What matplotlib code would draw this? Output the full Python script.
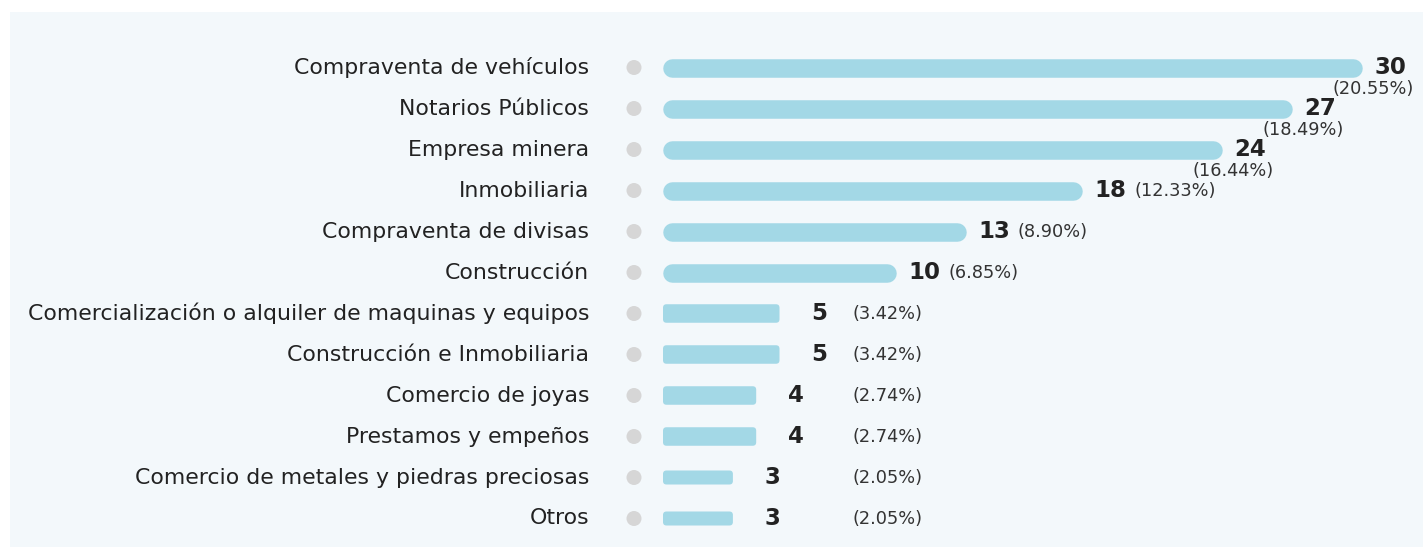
import matplotlib.pyplot as plt
from matplotlib.patches import Rectangle, FancyBboxPatch

categories = [
    'Compraventa de vehículos',
    'Notarios Públicos',
    'Empresa minera',
    'Inmobiliaria',
    'Compraventa de divisas',
    'Construcción',
    'Comercialización o alquiler de maquinas y equipos',
    'Construcción e Inmobiliaria',
    'Comercio de joyas',
    'Prestamos y empeños',
    'Comercio de metales y piedras preciosas',
    'Otros',
]
counts = [30, 27, 24, 18, 13, 10, 5, 5, 4, 4, 3, 3]
percents = ['20.55%', '18.49%', '16.44%', '12.33%', '8.90%', '6.85%',
            '3.42%', '3.42%', '2.74%', '2.74%', '2.05%', '2.05%']

W, H, DPI = 1428, 547, 100
BAR_COLOR = '#a3d8e6'
DOT_COLOR = '#d6d6d6'
PANEL = '#f3f8fb'
TEXT = '#222222'
FONT = 'DejaVu Sans'

fig = plt.figure(figsize=(W / DPI, H / DPI), dpi=DPI, facecolor='white')
fig.patches.append(Rectangle((10 / W, 0), 1413 / W, (H - 12) / H,
                             transform=fig.transFigure, facecolor=PANEL,
                             edgecolor='none', zorder=-10))

# axes: x=0 at 663px, ~23.3 px per unit; 12 rows of 41px from y=47px
x0_px, ppu = 663, 23.3
row_px = 41
xmax = (W - x0_px) / ppu
ax = fig.add_axes([x0_px / W, 8 / H, (W - x0_px) / W, row_px * len(categories) / H])
ax.set_xlim(0, xmax)
ax.set_ylim(len(categories) - 0.5, -0.5)
ax.axis('off')
ax.patch.set_alpha(0)

dot_size = (15 * 72 / DPI) ** 2

for i, (cat, v, p) in enumerate(zip(categories, counts, percents)):
    if v >= 10:
        # long bars: pill shape (round caps)
        h_px = 18.5
        r = (h_px / 2) / ppu
        ax.plot([r, v - r], [i, i], color=BAR_COLOR, lw=h_px * 72 / DPI,
                solid_capstyle='round', zorder=2)
    else:
        # short bars: slightly rounded corners
        h_px = 14 if v <= 3 else 18.5
        rad_px = 3.5
        bar = FancyBboxPatch((0, i - h_px / row_px / 2), v, h_px / row_px,
                             boxstyle=f'round,pad=0,rounding_size={rad_px / ppu}',
                             mutation_aspect=ppu / row_px,
                             facecolor=BAR_COLOR, edgecolor='none', zorder=2)
        ax.add_patch(bar)
    ax.scatter([-29 / ppu], [i], s=dot_size, color=DOT_COLOR, clip_on=False,
               edgecolors='none', zorder=2)
    ax.annotate(cat, xy=(-74 / ppu, i), xycoords='data', ha='right',
                va='center', fontsize=15.8, color=TEXT, family=FONT,
                annotation_clip=False)

    gap = 12 if v >= 10 else 32
    num = ax.annotate(str(v), xy=(v, i), xytext=(gap * 72 / DPI, 0),
                      textcoords='offset points', ha='left', va='center',
                      fontsize=16.5, fontweight='bold', color=TEXT,
                      family=FONT, annotation_clip=False)
    label = f'({p})'
    if v >= 20:
        ax.annotate(label, xy=(1, 0), xycoords=num, xytext=(8, -1),
                    textcoords='offset pixels', ha='right', va='top',
                    fontsize=12.8, color='#333333', family=FONT)
    elif v >= 10:
        ax.annotate(label, xy=(1, 0.5), xycoords=num, xytext=(8, 0),
                    textcoords='offset pixels', ha='left', va='center',
                    fontsize=12.8, color='#333333', family=FONT)
    else:
        ax.annotate(label, xy=((852 - x0_px) / ppu, i), ha='left',
                    va='center', fontsize=12.8, color='#333333', family=FONT,
                    annotation_clip=False)

fig.savefig('out.png', dpi=DPI, facecolor='white')
